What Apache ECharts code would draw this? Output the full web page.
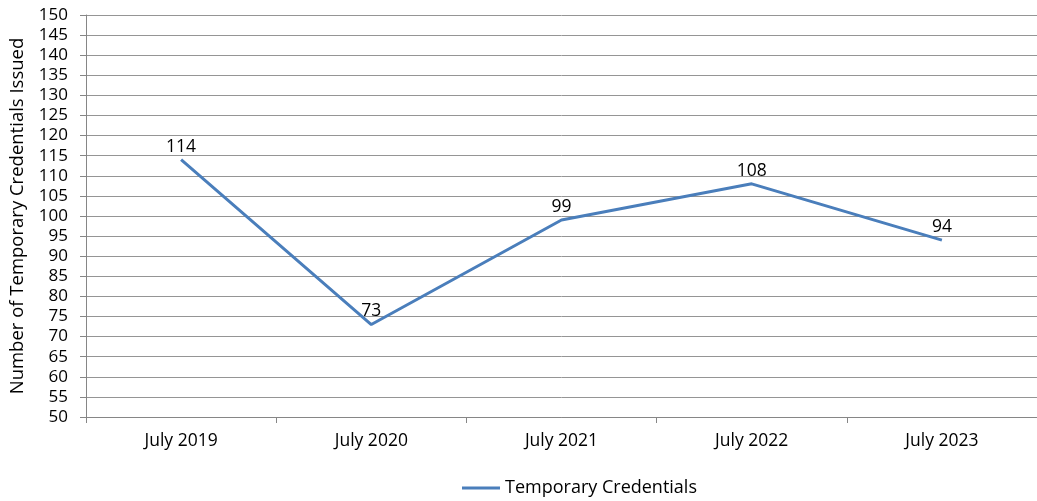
<!DOCTYPE html>
<html>
<head>
<meta charset="utf-8">
<script src="https://cdn.jsdelivr.net/npm/echarts@6/dist/echarts.min.js"></script>
<style>
  html, body { margin: 0; padding: 0; background: #fff; }
  #chart { width: 1037px; height: 501px; }
</style>
</head>
<body>
<div id="chart"></div>
<script>
// Temporary credentials issued each July
const categories = ['July 2019', 'July 2020', 'July 2021', 'July 2022', 'July 2023'];
const credentials = [114, 73, 99, 108, 94];
const seriesName = 'Temporary Credentials';
const yAxisTitle = 'Number of Temporary Credentials Issued';

const FONT = '"Open Sans", "Liberation Sans", sans-serif';
const chart = echarts.init(document.getElementById('chart'), null, { renderer: 'canvas' });

chart.setOption({
  animation: false,
  backgroundColor: '#ffffff',
  textStyle: { fontFamily: FONT, color: '#000' },
  grid: {
    left: 86, right: 0, top: 15, bottom: 84,
    containLabel: false,
    outerBoundsMode: 'none'
  },
  legend: {
    bottom: -1,
    left: 457,
    data: [seriesName],
    itemWidth: 38,
    itemHeight: 3,
    itemGap: 4,
    icon: 'rect',
    textStyle: { fontFamily: FONT, fontSize: 18, color: '#000' }
  },
  xAxis: {
    type: 'category',
    data: categories,
    boundaryGap: true,
    axisLine: { lineStyle: { color: '#868686', width: 1 } },
    axisTick: { show: true, length: 6, lineStyle: { color: '#868686' } },
    axisLabel: { fontFamily: FONT, fontSize: 17.5, color: '#000', margin: 15 }
  },
  yAxis: {
    type: 'value',
    min: 50,
    max: 150,
    interval: 5,
    name: yAxisTitle,
    nameLocation: 'middle',
    nameGap: 59,
    nameTextStyle: { fontFamily: FONT, fontSize: 18.5, color: '#000' },
    axisLine: { show: true, lineStyle: { color: '#868686', width: 1 } },
    axisTick: { show: true, length: 6, lineStyle: { color: '#868686' } },
    axisLabel: { fontFamily: FONT, fontSize: 17, color: '#000', margin: 18 },
    splitLine: { show: true, lineStyle: { color: '#959595', width: 1 } }
  },
  series: [{
    name: seriesName,
    type: 'line',
    data: credentials,
    symbol: 'circle',
    symbolSize: 0.1,
    showSymbol: true,
    lineStyle: { color: '#4a7ebb', width: 3 },
    itemStyle: { color: '#4a7ebb' },
    label: {
      show: true,
      position: 'top',
      distance: 4,
      fontFamily: FONT,
      fontSize: 17.5,
      color: '#000'
    }
  }]
});
</script>
</body>
</html>
